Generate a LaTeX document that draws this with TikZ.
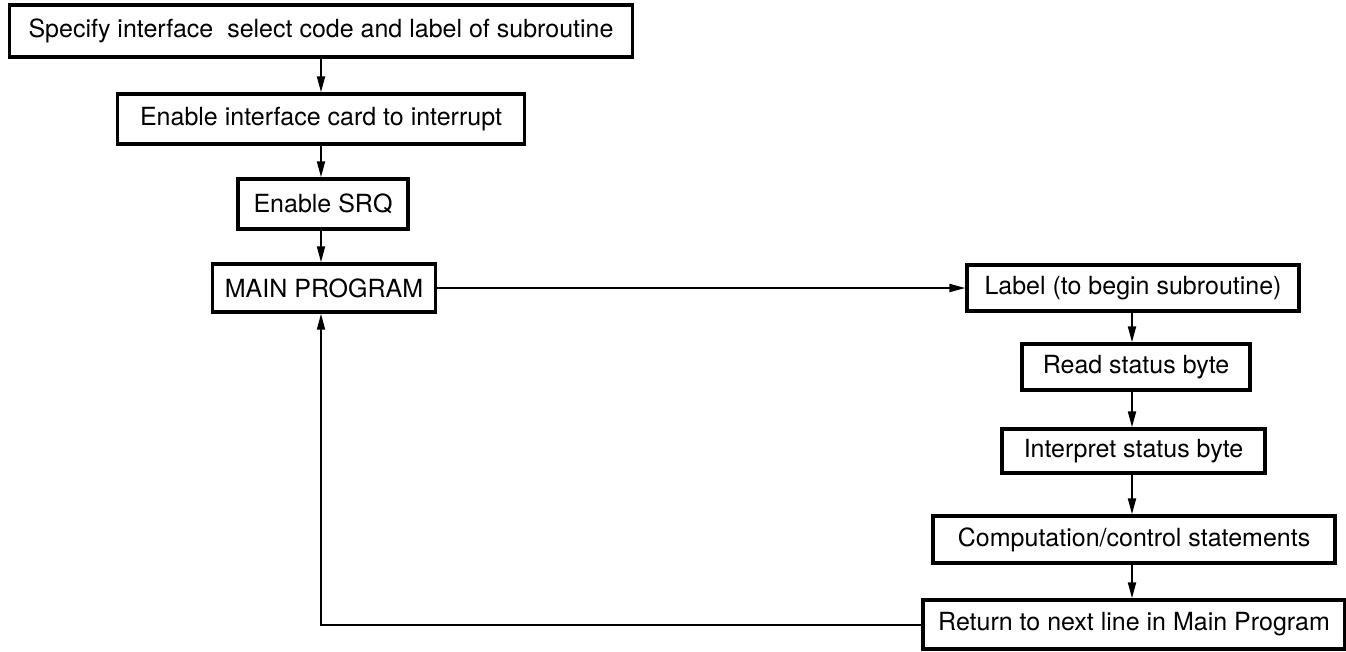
\documentclass[tikz,border=0pt]{standalone}
\usepackage{fontspec}
\setmainfont{TeX Gyre Heros}
\usetikzlibrary{arrows.meta}
\begin{document}
\begin{tikzpicture}[x=1pt,y=-1pt,
  box/.style={draw,line width=3.4pt,inner sep=0pt,font=\fontsize{25}{30}\selectfont},
  arr/.style={line width=2pt,-{Stealth[length=16pt,width=8pt,inset=0pt]}}]
\useasboundingbox (0,0) rectangle (1346,651);
\fill[white] (0,0) rectangle (1346,651);
% left column
\node[box,minimum width=623pt,minimum height=52pt] (b1) at (321,31) {Specify interface\ \ select code and label of subroutine};
\node[box,minimum width=407pt,minimum height=50pt] (b2) at (321,119) {Enable interface card to interrupt};
\node[box,minimum width=170pt,minimum height=50pt] (b3) at (323,204) {Enable SRQ};
\node[box,minimum width=223pt,minimum height=48pt] (b4) at (324,288) {MAIN PROGRAM};
% right column
\node[box,minimum width=332pt,minimum height=46pt] (lab) at (1133,288) {Label (to begin subroutine)};
\node[box,minimum width=228pt,minimum height=46pt] (rd) at (1136,367) {Read status byte};
\node[box,minimum width=263pt,minimum height=44pt] (ip) at (1133.5,451) {Interpret status byte};
\node[box,minimum width=402pt,minimum height=47pt] (cp) at (1134,539.5) {Computation/control statements};
\node[box,minimum width=422pt,minimum height=49pt] (rt) at (1134,624.5) {Return to next line in Main Program};
% connectors
\coordinate (lx) at (321,0);
\coordinate (rx) at (1132,0);
\draw[arr] (b1.south -| lx) -- (b2.north -| lx);
\draw[arr] (b2.south -| lx) -- (b3.north -| lx);
\draw[arr] (b3.south -| lx) -- (b4.north -| lx);
\draw[arr] (b4.east) -- (lab.west);
\draw[arr] (lab.south -| rx) -- (rd.north -| rx);
\draw[arr] (rd.south -| rx) -- (ip.north -| rx);
\draw[arr] (ip.south -| rx) -- (cp.north -| rx);
\draw[arr] (cp.south -| rx) -- (rt.north -| rx);
\draw[arr] (rt.west) -| (b4.south -| lx);
\end{tikzpicture}
\end{document}
